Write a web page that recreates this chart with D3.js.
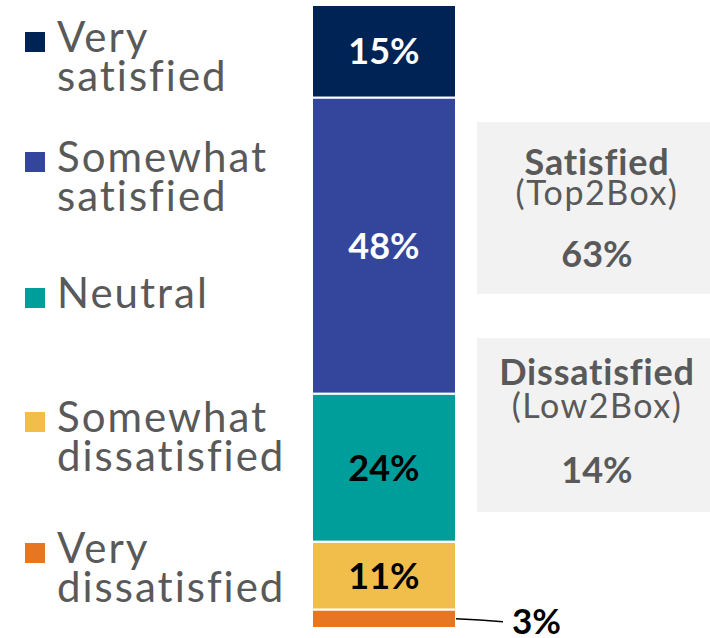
<!DOCTYPE html>
<html><head><meta charset="utf-8">
<script src="https://cdn.jsdelivr.net/npm/d3@7/dist/d3.min.js"></script>
<style>
html,body{margin:0;padding:0;background:#fff;}
svg{display:block;font-family:Lato, "Open Sans", sans-serif;}
</style></head>
<body><svg id="c" width="710" height="638"></svg>
<script>
const categories = ["Very satisfied","Somewhat satisfied","Neutral","Somewhat dissatisfied","Very dissatisfied"];
const legendLines = [["Very","satisfied"],["Somewhat","satisfied"],["Neutral"],["Somewhat","dissatisfied"],["Very","dissatisfied"]];
const values = [15,48,24,11,3];
const colors = ["#002355","#33469c","#009e9b","#f1be4b","#e67621"];
const labelColors = ["#fff","#fff","#000","#000","#000"];
const summaryTitles = ["Satisfied","Dissatisfied"];
const summarySubs = ["(Top2Box)","(Low2Box)"];
const summaryValues = [63,14];

const svg = d3.select("#c");
const total = d3.sum(values);
const stackData = [];
let acc = 0;
for (let i = values.length-1; i >= 0; i--) {
  stackData.push({i, y0: acc, y1: acc + values[i]});
  acc += values[i];
}
const y = d3.scaleLinear().domain([0,total]).range([628,5]);
const x = d3.scaleBand().domain(["all"]).range([312,456]).padding(0);

const bars = svg.append("g");
bars.selectAll("rect").data(stackData).join("rect")
  .attr("x", x("all"))
  .attr("width", x.bandwidth())
  .attr("y", d => y(d.y1))
  .attr("height", d => y(d.y0) - y(d.y1))
  .attr("fill", d => colors[d.i])
  .attr("stroke", "#fff").attr("stroke-width", 2);

bars.selectAll("text").data(stackData.filter(d => values[d.i] >= 5)).join("text")
  .attr("x", x("all") + x.bandwidth()/2)
  .attr("y", d => (y(d.y0)+y(d.y1))/2 + 13)
  .attr("text-anchor","middle")
  .attr("font-weight","bold").attr("font-size",36)
  .attr("fill", d => labelColors[d.i])
  .text(d => values[d.i] + "%");

const small = stackData.filter(d => values[d.i] < 5);
small.forEach(d => {
  const ym = (y(d.y0)+y(d.y1))/2;
  svg.append("path")
    .attr("d", `M${x("all")+x.bandwidth()},${ym} Q480,${ym+1} 503,${ym+3}`)
    .attr("fill","none").attr("stroke","#000").attr("stroke-width",1.3);
  svg.append("text").attr("x",512).attr("y",ym+15)
    .attr("font-weight","bold").attr("font-size",35).attr("fill","#000")
    .text(values[d.i] + "%");
});

const legendY = [52, 172, 308, 432, 563];
const lg = svg.append("g");
categories.forEach((c,i) => {
  lg.append("rect").attr("x",25).attr("y",legendY[i]-20).attr("width",20).attr("height",20).attr("fill",colors[i]);
  const t = lg.append("text").attr("x",57).attr("y",legendY[i])
    .attr("font-size",42).attr("fill","#595959").attr("letter-spacing",2);
  legendLines[i].forEach((l,k) => {
    t.append("tspan").attr("x",57).attr("dy", k===0?0:39).text(l);
  });
});

const boxes = [{y:122,h:172,base:[175,205,267]},{y:338,h:174,base:[385,418,483]}];
boxes.forEach((b,i) => {
  svg.append("rect").attr("x",477).attr("y",b.y).attr("width",233).attr("height",b.h).attr("fill","#f2f2f2");
  svg.append("text").attr("x",597).attr("y",b.base[0]).attr("text-anchor","middle")
    .attr("font-weight","bold").attr("font-size",36).attr("letter-spacing",0.8).attr("fill","#595959").text(summaryTitles[i]);
  svg.append("text").attr("x",597).attr("y",b.base[1]).attr("text-anchor","middle")
    .attr("font-size",34).attr("letter-spacing",1.5).attr("fill","#595959").text(summarySubs[i]);
  svg.append("text").attr("x",597).attr("y",b.base[2]).attr("text-anchor","middle")
    .attr("font-weight","bold").attr("font-size",36).attr("fill","#595959").text(summaryValues[i] + "%");
});
</script></body></html>
